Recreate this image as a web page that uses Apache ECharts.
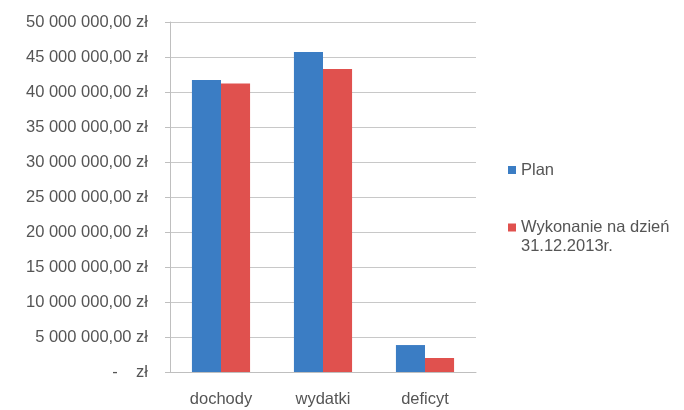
<!DOCTYPE html>
<html><head><meta charset="utf-8">
<script src="https://cdn.jsdelivr.net/npm/echarts@6/dist/echarts.min.js"></script>
<style>html,body{margin:0;padding:0;background:#fff}#c{width:684px;height:410px}</style>
</head><body><div id="c"></div>
<script>
const categories = ['dochody', 'wydatki', 'deficyt'];
const planValues = [41700000, 45700000, 3850000];
const wykonanieValues = [41200000, 43300000, 2000000];
const seriesNames = ['Plan', 'Wykonanie na dzień\n31.12.2013r.'];

function fmt(v) {
  if (v === 0) return '-    zł';
  const s = String(Math.round(v)).replace(/\B(?=(\d{3})+(?!\d))/g, ' ');
  return s + ',00 zł';
}

const chart = echarts.init(document.getElementById('c'));
const font = 'Liberation Sans';
const fs = 16.5;
const txt = '#555555';
chart.setOption({
  animation: false,
  textStyle: { fontFamily: font },
  grid: { left: 170, right: 208, top: 22, bottom: 38 },
  legend: [
    { orient: 'vertical', left: 503, top: 155, itemWidth: 8, itemHeight: 8,
      icon: 'rect', data: [seriesNames[0]],
      textStyle: { fontFamily: font, fontSize: fs, color: txt, lineHeight: 20 } },
    { orient: 'vertical', left: 503, top: 194, itemWidth: 8, itemHeight: 8,
      icon: 'rect', data: [seriesNames[1]],
      formatter: function (n) { return ' \n' + n; },
      textStyle: { fontFamily: font, fontSize: fs, color: txt, lineHeight: 19 } }
  ],
  xAxis: {
    type: 'category', data: categories,
    axisLine: { lineStyle: { color: '#bfbfbf' } },
    axisTick: { show: false },
    axisLabel: { color: txt, fontSize: fs, margin: 19, fontFamily: font }
  },
  yAxis: {
    type: 'value', min: 0, max: 50000000, interval: 5000000,
    axisLine: { show: true, lineStyle: { color: '#bfbfbf' } },
    axisTick: { show: true, length: 5, lineStyle: { color: '#bfbfbf' } },
    splitLine: { lineStyle: { color: '#c8c8c8' } },
    axisLabel: { color: txt, fontSize: fs, margin: 22, fontFamily: font, formatter: fmt }
  },
  series: [
    { name: seriesNames[0], type: 'bar', data: planValues, barGap: '0%', barCategoryGap: '43%',
      itemStyle: { color: '#3b7dc4' } },
    { name: seriesNames[1], type: 'bar', data: wykonanieValues,
      itemStyle: { color: '#e0514e' } }
  ]
});
</script></body></html>
